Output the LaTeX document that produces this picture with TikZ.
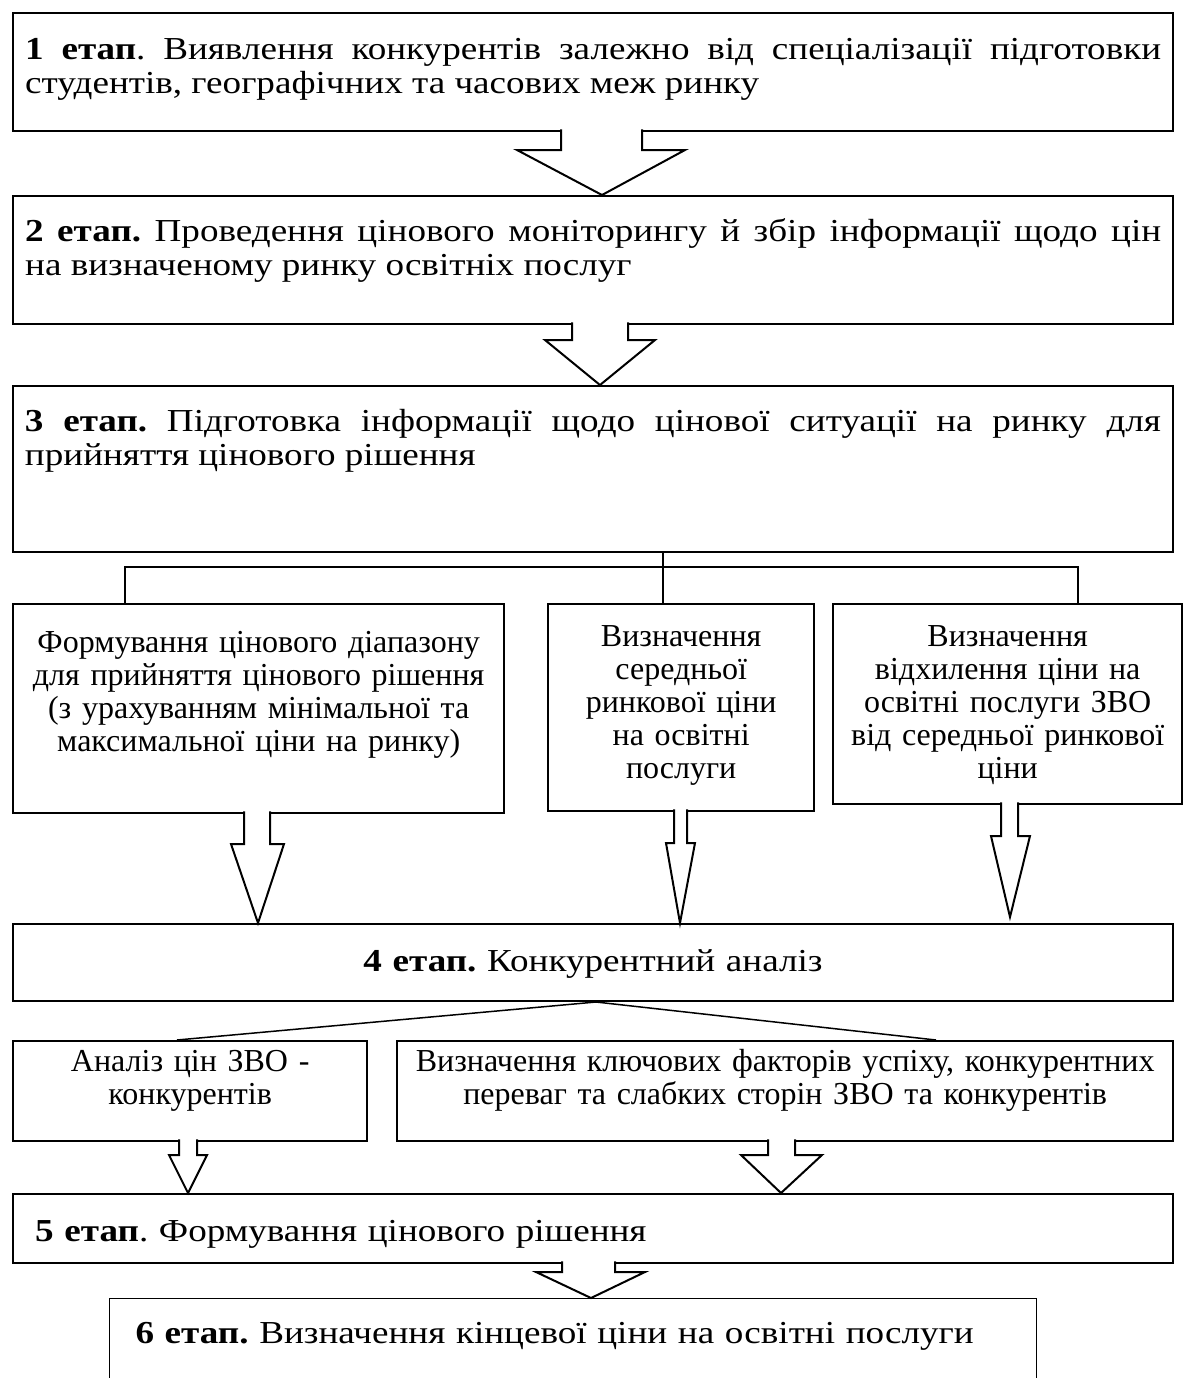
\documentclass[tikz,border=0pt]{standalone}
\usepackage{fontspec}
\setmainfont{Liberation Serif}
\newfontfamily\stagefont[FakeStretch=1.16]{Liberation Serif}
\usetikzlibrary{calc}

\begin{document}
\frenchspacing
\begin{tikzpicture}[x=0.5pt, y=-0.5pt,
        stagebox/.style={draw, line width=1.2pt, inner ysep=0pt, anchor=north west},
        stage/.style={stagebox, font=\stagefont\fontsize{16pt}{17pt}\selectfont},
        task/.style={stagebox, font=\fontsize{16pt}{16.5pt}\selectfont},
        link/.style={line width=0.75pt},
        hollow/.style={draw, fill=white, line width=1pt, line join=miter}]
    \clip (0,0) rectangle (1183,1378);

    % stages 1-3
    \node[stage, text width=568pt, inner xsep=6pt, align=justify, text height=23pt, text depth=36pt] (b1) at (12,12)
        {\textbf{1 етап}. Виявлення конкурентів залежно від спеціалізації підготовки\linebreak студентів, географічних та часових меж ринку};
    \node[stage, text width=568pt, inner xsep=6pt, align=justify, text height=22.5pt, text depth=41.5pt] (b2) at (12,195)
        {\textbf{2 етап.} Проведення цінового моніторингу й збір інформації щодо цін\linebreak на визначеному ринку освітніх послуг};
    \node[stage, line width=1pt, text width=568pt, inner xsep=6pt, align=justify, text height=22.5pt, text depth=60.5pt] (b3) at (12,385)
        {\textbf{3 етап.} Підготовка інформації щодо цінової ситуації на ринку для\linebreak прийняття цінового рішення};

    % three tasks of stage 3
    \node[task, text width=235pt, inner xsep=5.25pt, align=center, text height=24pt, text depth=80.5pt] (bA) at (12,603)
        {Формування цінового діапазону\\для прийняття цінового рішення\\(з урахуванням мінімальної та\\максимальної ціни на ринку)};
    \node[task, text width=123pt, inner xsep=5pt, align=center, text height=21pt, text depth=82.5pt] (bB) at (547,603)
        {Визначення\\середньої\\ринкової ціни\\на освітні\\послуги};
    \node[task, text width=164.5pt, inner xsep=5pt, align=center, text height=21pt, text depth=79pt] (bC) at (832,603)
        {Визначення\\відхилення ціни на\\освітні послуги ЗВО\\від середньої ринкової\\ціни};

    % stage 4 and its tasks
    \node[stage, line width=1pt, text width=570pt, inner xsep=5pt, align=center, text height=23.5pt, text depth=15pt] (b4) at (12,923)
        {\textbf{4 етап.} Конкурентний аналіз};
    \node[task, text width=167pt, inner xsep=5pt, align=center, text height=15pt, text depth=35pt] (bD) at (12,1040)
        {Аналіз цін ЗВО -\\конкурентів};
    \node[task, text width=378pt, inner xsep=5pt, align=center, text height=15pt, text depth=35pt] (bE) at (396,1040)
        {Визначення ключових факторів успіху, конкурентних\\переваг та слабких сторін ЗВО та конкурентів};

    % stages 5-6
    \node[stage, text width=558pt, inner xsep=11pt, align=left, text height=23.5pt, text depth=11pt] (b5) at (12,1193)
        {\textbf{5 етап}. Формування цінового рішення};
    \node[stage, line width=0.5pt, text width=437.5pt, inner xsep=13pt, align=left, text height=22.5pt, text depth=60pt] (b6) at (109,1298)
        {\textbf{6 етап.} Визначення кінцевої ціни на освітні послуги};

    % bracket under stage 3
    \coordinate (split) at (663,567);
    \draw[link] (663,0 |- b3.south) -- (split) -- (663,0 |- bB.north);
    \draw[link] (125,0 |- bA.north) |- (split) -| (1078,0 |- bC.north);

    % lines under stage 4
    \draw[link] (596,0 |- b4.south) -- (177,0 |- bD.north);
    \draw[link] (596,0 |- b4.south) -- (936,0 |- bE.north);

    % hollow arrows
    \draw[hollow] ($(561,0 |- b1.south)+(0,-3)$) -- (561,150) -- (517,150) -- (602,0 |- b2.north)
        -- (685,150) -- (642,150) -- ($(642,0 |- b1.south)+(0,-3)$);
    \draw[hollow] ($(572,0 |- b2.south)+(0,-3)$) -- (572,340) -- (545,340) -- (600,0 |- b3.north)
        -- (655,340) -- (628,340) -- ($(628,0 |- b2.south)+(0,-3)$);
    \draw[hollow] ($(244,0 |- bA.south)+(0,-3)$) -- (244,844) -- (231,844) -- (258,0 |- b4.north)
        -- (284,844) -- (270,844) -- ($(270,0 |- bA.south)+(0,-3)$);
    \draw[hollow] ($(674,0 |- bB.south)+(0,-3)$) -- (674,843) -- (666,843) -- (680,0 |- b4.north)
        -- (695,843) -- (687,843) -- ($(687,0 |- bB.south)+(0,-3)$);
    \draw[hollow] ($(1001,0 |- bC.south)+(0,-3)$) -- (1001,836) -- (991,836) -- ($(1010,0 |- b4.north)+(0,-6)$)
        -- (1030,836) -- (1018,836) -- ($(1018,0 |- bC.south)+(0,-3)$);
    \draw[hollow] ($(179,0 |- bD.south)+(0,-3)$) -- (179,1155) -- (169,1155) -- (188,0 |- b5.north)
        -- (207,1155) -- (197,1155) -- ($(197,0 |- bD.south)+(0,-3)$);
    \draw[hollow] ($(768,0 |- bE.south)+(0,-3)$) -- (768,1155) -- (741,1155) -- (781,0 |- b5.north)
        -- (822,1155) -- (795,1155) -- ($(795,0 |- bE.south)+(0,-3)$);
    \draw[hollow] ($(562,0 |- b5.south)+(0,-3)$) -- (562,1272) -- (536,1272) -- (591,0 |- b6.north)
        -- (645,1272) -- (615,1272) -- ($(615,0 |- b5.south)+(0,-3)$);
\end{tikzpicture}
\end{document}
